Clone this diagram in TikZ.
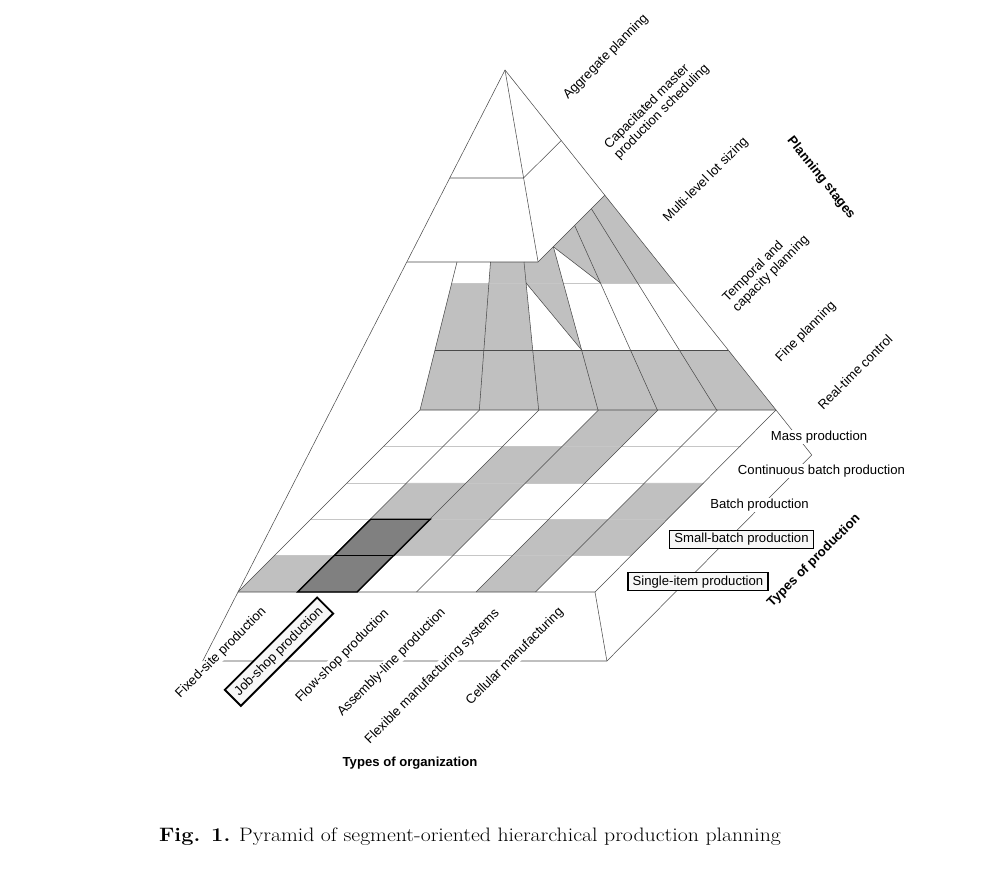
\documentclass[tikz,border=0pt]{standalone}
\usepackage{fontspec}
\usepackage{graphicx}
\setsansfont{Liberation Sans}
\usetikzlibrary{positioning, calc}
\definecolor{cell-grey}{HTML}{C0C0C0}
\definecolor{cell-dark}{HTML}{808080}
\definecolor{edge-grey}{HTML}{4A4A4A}

% one cell of the floor grid: column, row (0 = front), colour
\newcommand{\floorcell}[3]{%
  \fill[#3] ({238+36.4*#2+59.5*#1},{592-36.4*#2}) -- ++(59.5,0) -- ++(36.4,-36.4) -- ++(-59.5,0) -- cycle;}

\begin{document}
\begin{tikzpicture}[
    x=0.03cm, y=-0.03cm,
    font=\sffamily\fontsize{11.2}{12}\selectfont,
    edge/.style={draw=edge-grey, line width=0.45pt},
    soft/.style={draw=gray!45, line width=0.45pt},
    label/.style={fill=white, inner sep=0.8pt},
    stage/.style={label, rotate=45, align=left},
    orgtype/.style={label, rotate=45},
    prodtype/.style={label},
    framed/.style={draw, line width=1pt, fill=gray!6, inner xsep=4pt, inner ysep=2.4pt},
    head/.style={font=\sffamily\bfseries\fontsize{11.2}{12}\selectfont},
    caption/.style={font=\rmfamily\fontsize{16.6}{19}\selectfont}
]
    \useasboundingbox (0,0) rectangle (1003,873);

    % points on the back face of the pyramid
    \coordinate (apex) at (505,70);
    \foreach \k in {0,...,6} {
        \coordinate (k\k a) at ({505+(59.333*\k-85)},410);
        \coordinate (k\k b) at ({505+(59.333*\k-85)*0.823529},350);
        \coordinate (k\k c) at ({505+(59.333*\k-85)*0.626471},283);
    }
    \coordinate (t0) at (457,262);
    \coordinate (t1) at (490.5,262);
    \coordinate (t2) at (524,262);
    \coordinate (t3) at (553.35,246.75);
    \coordinate (t4) at (574.65,225.45);
    \coordinate (t5) at (591.37,208.73);
    \coordinate (t6) at (604.8,195.3);
    \coordinate (cut) at (538.1,262);

    % shaded parts of the back face
    \fill[cell-grey] (k0a) -- (k6a) -- (k6b) -- (k0b) -- cycle;
    \fill[cell-grey] (k0b) -- (k2b) -- (k2c) -- (k0c) -- cycle;
    \fill[cell-grey] (k2c) -- (k3c) -- (k3b) -- cycle;
    \fill[cell-grey] (k1c) -- (k2c) -- (t2) -- (t1) -- cycle;
    \fill[cell-grey] (k2c) -- (k3c) -- (t3) -- (cut) -- (t2) -- cycle;
    \fill[cell-grey] (t3) -- (t4) -- (k4c) -- cycle;
    \fill[cell-grey] (k4c) -- (k6c) -- (t6) -- (t4) -- cycle;

    % shaded cells of the floor
    \floorcell{0}{0}{cell-grey}
    \floorcell{4}{0}{cell-grey}
    \floorcell{2}{1}{cell-grey}
    \floorcell{4}{1}{cell-grey}
    \floorcell{5}{1}{cell-grey}
    \floorcell{1}{2}{cell-grey}
    \floorcell{2}{2}{cell-grey}
    \floorcell{5}{2}{cell-grey}
    \floorcell{2}{3}{cell-grey}
    \floorcell{3}{3}{cell-grey}
    \floorcell{3}{4}{cell-grey}
    \floorcell{1}{0}{cell-dark}
    \floorcell{1}{1}{cell-dark}

    % lines of the back face
    \draw[soft] (k0c) -- (k6c);
    \draw[edge] (k0b) -- (k6b);
    \draw[edge] (k1a) -- (t1);
    \draw[edge] (k2a) -- (t2);
    \draw[edge] (k3a) -- (t3);
    \draw[edge] (k4a) -- (t4);
    \draw[edge] (k5a) -- (t5);
    \draw[edge] (k2c) -- (k3b);
    \draw[edge] (t3) -- (k4c);
    \draw[edge] (k0a) -- (t0);

    % floor grid
    \foreach \r in {1,...,4}
        \draw[soft] ({238+36.4*\r},{592-36.4*\r}) -- ++(357,0);
    \foreach \c in {1,...,5}
        \draw[edge] ({238+59.5*\c},592) -- ++(182,-182);
    \draw[edge] (238,592) -- (420,410) -- (776,410);

    % base slab
    \draw[edge] (202.7,661) -- (606.9,661) -- (811.8,455) -- (776,410);
    \draw[edge] (238,592) -- (595,592) -- (776,410);
    \draw[edge] (595,592) -- (606.9,661);

    % pyramid top
    \draw[edge] (apex) -- (238,592) -- (202.7,661);
    \draw[edge] (apex) -- (776,410);
    \draw[edge] (apex) -- (cut);
    \draw[edge] (406.8,262) -- (cut) -- (t6);
    \draw[edge] (449.8,178) -- (523.6,178) -- (561.2,140.45);

    % job-shop block
    \draw[line width=1.2pt] (297.5,592) -- (357,592) -- (430.3,519.2) -- (370.8,519.2) -- cycle;
    \draw[line width=1.2pt] (333.9,555.6) -- (393.4,555.6);

    % planning stages
    \node[stage] (agg) at (606,57) {Aggregate planning};
    \node[stage] (mps) at (657,107) {Capacitated master\\production scheduling};
    \node[stage] (lot) at (706,180) {Multi-level lot sizing};
    \node[stage] (tcp) at (766,269) {Temporal and\\capacity planning};
    \node[stage] (fine) at (806,332) {Fine planning};
    \node[stage] (rtc) at (855,372) {Real-time control};
    \node[head, rotate=-51.4] (stages) at (821,178) {Planning stages};

    % types of production
    \node[prodtype] (mass) at (819,437) {Mass production};
    \node[prodtype] (cont) at (821.5,471) {Continuous batch production};
    \node[prodtype] (batch) at (759.5,505) {Batch production};
    \node[prodtype, framed] (small) at (741.5,539.5) {Small-batch production};
    \node[prodtype, framed] (single) at (698,581.7) {Single-item production};
    \node[head, rotate=45] (prod) at (814,561) {Types of production};

    % types of organization
    \node[orgtype] (fixed) at (221,653) {Fixed-site production};
    \node[orgtype, framed, line width=1.6pt, inner xsep=5pt, inner ysep=4.5pt] (job) at (279,651.7) {Job-shop production};
    \node[orgtype] (flow) at (342.5,656) {Flow-shop production};
    \node[orgtype] (line) at (391.7,662.5) {Assembly-line production};
    \node[orgtype] (flex) at (432.5,676.7) {Flexible manufacturing systems};
    \node[orgtype] (cell) at (515,656.7) {Cellular manufacturing};
    \node[head] (org) at (410,763) {Types of organization};

    \node[caption] (cap) at (470,837) {\scalebox{1.12}[1]{\textbf{Fig. 1.} Pyramid of segment-oriented hierarchical production planning}};
\end{tikzpicture}
\end{document}
